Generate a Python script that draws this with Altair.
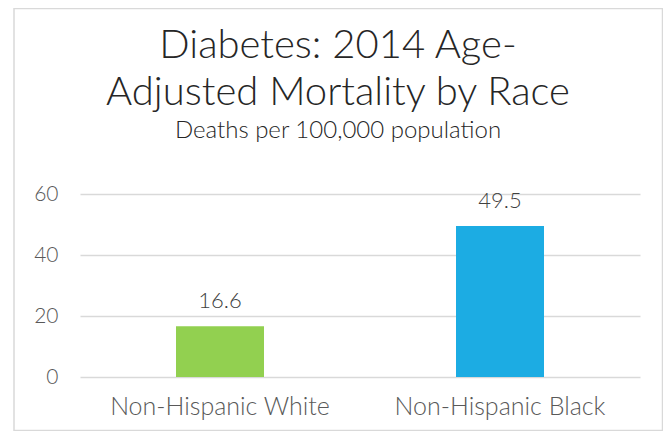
import altair as alt
import pandas as pd

categories = ["Non-Hispanic White", "Non-Hispanic Black"]
values = [16.6, 49.5]
bar_colors = ["#92D050", "#1CACE3"]
y_ticks = [0, 20, 40, 60]

title_lines = ["Diabetes: 2014 Age-", "Adjusted Mortality by Race"]
subtitle = "Deaths per 100,000 population"

FONT = "Lato"

df = pd.DataFrame({"race": categories, "rate": values, "color": bar_colors})
df["label"] = df["rate"].map(lambda v: f"{v:.1f}")

base = alt.Chart(df).encode(
    x=alt.X(
        "race:N",
        sort=categories,
        scale=alt.Scale(paddingInner=0, paddingOuter=0),
        axis=alt.Axis(
            title=None, labelAngle=0, labelFontSize=25, labelColor="#595959",
            labelPadding=17, ticks=False, domain=False, grid=False, labelLimit=400,
            labelFont=FONT, labelFontWeight=300,
        ),
    ),
    y=alt.Y(
        "rate:Q",
        scale=alt.Scale(domain=[0, 60], nice=False),
        axis=alt.Axis(
            title=None, values=y_ticks, labelFontSize=21, labelColor="#595959",
            labelPadding=22, ticks=False, domain=False, gridColor="#d9d9d9",
            gridWidth=1.5, labelFont=FONT, labelFontWeight=300,
        ),
    ),
)

bars = base.mark_bar(size=88).encode(color=alt.Color("color:N", scale=None))
labels = base.mark_text(
    dy=-18, baseline="alphabetic", fontSize=22, color="#404040", font=FONT, fontWeight=300
).encode(text="label:N")

one = pd.DataFrame({"k": [0]})

border = alt.Chart(one).mark_rect(
    fillOpacity=0, stroke="#d9d9d9", strokeWidth=1.5
).encode(
    x=alt.value(-66), x2=alt.value(582.5), y=alt.value(-185.5), y2=alt.value(236.5)
)


def title_text(txt, ypix, size):
    return alt.Chart(one).mark_text(
        font=FONT, fontWeight=300, fontSize=size, color="#262626",
        align="center", baseline="alphabetic",
    ).encode(x=alt.value(258), y=alt.value(ypix), text=alt.value(txt))


t1 = title_text(title_lines[0], -136, 40)
t2 = title_text(title_lines[1], -89, 40)
t3 = title_text(subtitle, -56, 24)

chart = alt.layer(border, bars, labels, t1, t2, t3).properties(
    width=560,
    height=183,
    autosize=alt.AutoSizeParams(type="none"),
    padding={"left": 72, "top": 186, "right": 23, "bottom": 54},
    background="white",
).configure_view(stroke=None)

chart.save("out.html", embed_options={"renderer": "svg", "actions": False})
